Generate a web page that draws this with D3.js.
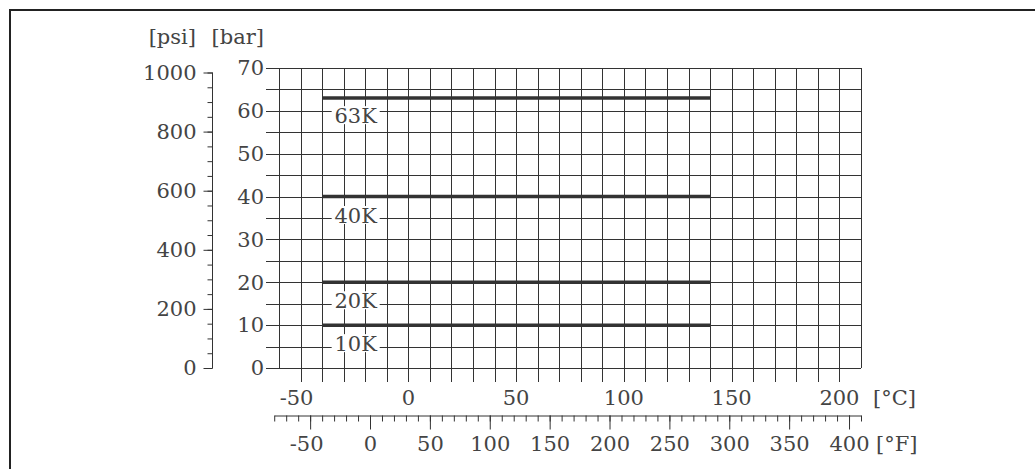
<!DOCTYPE html>
<html>
<head>
<meta charset="utf-8">
<script src="https://cdn.jsdelivr.net/npm/d3@7"></script>
<style>
  body { margin: 0; background: #fff; }
  svg text { font-family: "DejaVu Serif", serif; font-size: 21px; fill: #444; }
</style>
</head>
<body>
<script>
// pressure ratings (bar) and the bar value each label is centred on
let ratings = ["63K", "40K", "20K", "10K"];
let ratingBar = [63, 40, 20, 10];
let ratingLabelBar = [59, 35.7, 15.8, 5.8];
let tempRangeC = [-40, 140];

let barTicks = [0, 10, 20, 30, 40, 50, 60, 70];
let psiTicks = [0, 200, 400, 600, 800, 1000];
let cTicks = [-50, 0, 50, 100, 150, 200];
let fTicks = [-50, 0, 50, 100, 150, 200, 250, 300, 350, 400];

const W = 1035, H = 469;
const PSI_PER_BAR = 14.5038;
const fToC = f => (f - 32) * 5 / 9;
const fmt = d => String(d); // plain hyphen minus, no thousands comma

let svg = d3.select("body").append("svg")
    .attr("width", W)
    .attr("height", H);

// frame (open to the right and bottom, as in the source)
svg.append("path")
    .attr("d", "M10,469V10H1035")
    .attr("fill", "none")
    .attr("stroke", "#222")
    .attr("stroke-width", 2);

let x = d3.scaleLinear().domain([-60, 210]).range([279, 861]);
let y = d3.scaleLinear().domain([0, 70]).range([368, 68]);
let yPsi = d3.scaleLinear().domain([0, 70 * PSI_PER_BAR]).range([368, 68]);

let grid = svg.append("g").attr("stroke", "#333").attr("stroke-width", 1).attr("shape-rendering", "crispEdges");

// horizontal grid every 5 bar, running past the left edge
grid.selectAll(".h")
    .data(d3.range(0, 71, 5))
  .enter().append("line")
    .attr("x1", 266).attr("x2", x(210))
    .attr("y1", d => Math.round(y(d)) + 0.5)
    .attr("y2", d => Math.round(y(d)) + 0.5);

// vertical grid every 10 °C; inner lines hang below the plot as °C ticks
grid.selectAll(".v")
    .data(d3.range(-60, 211, 10))
  .enter().append("line")
    .attr("x1", d => Math.round(x(d)) + 0.5)
    .attr("x2", d => Math.round(x(d)) + 0.5)
    .attr("y1", y(70))
    .attr("y2", d => (d === -60 || d === 210) ? y(0) : y(0) + 14);

// rating lines
svg.selectAll(".rating")
    .data(ratingBar)
  .enter().append("line")
    .attr("x1", x(tempRangeC[0]))
    .attr("x2", x(tempRangeC[1]))
    .attr("y1", d => y(d))
    .attr("y2", d => y(d))
    .attr("stroke", "#333")
    .attr("stroke-width", 3.5);

// rating labels with white knock-out
let lab = svg.selectAll(".rlab")
    .data(ratings)
  .enter().append("g")
    .attr("transform", (d, i) => `translate(${x(-30) + 12},${y(ratingLabelBar[i])})`);
lab.append("rect")
    .attr("x", -24).attr("y", -9)
    .attr("width", 48).attr("height", 18)
    .attr("fill", "#fff");
lab.append("text")
    .attr("text-anchor", "middle")
    .attr("dy", "0.36em")
    .text(d => d);

// bar labels
svg.selectAll(".barlab")
    .data(barTicks)
  .enter().append("text")
    .attr("x", 264)
    .attr("y", d => y(d))
    .attr("dy", "0.35em")
    .attr("text-anchor", "end")
    .text(fmt);

// psi axis
let psiAxis = svg.append("g")
    .attr("transform", "translate(212.5,0)");
psiAxis.call(d3.axisLeft(yPsi).tickValues(d3.range(0, 1001, 50)).tickSize(5).tickFormat(""));
psiAxis.call(g => g.select(".domain").remove());
psiAxis.selectAll(".tick line").attr("stroke", "#333");
psiAxis.append("line")
    .attr("x1", 0).attr("x2", 0)
    .attr("y1", yPsi(0)).attr("y2", yPsi(1000))
    .attr("stroke", "#333");
let psiMajor = svg.append("g").attr("transform", "translate(212.5,0)")
    .call(d3.axisLeft(yPsi).tickValues(psiTicks).tickSize(9).tickPadding(7).tickFormat(fmt));
psiMajor.select(".domain").remove();
psiMajor.selectAll(".tick line").attr("stroke", "#333");

// °C labels
svg.selectAll(".clab")
    .data(cTicks)
  .enter().append("text")
    .attr("x", d => x(d) + (d < 0 ? -4 : 0))
    .attr("y", 398)
    .attr("dy", "0.35em")
    .attr("text-anchor", "middle")
    .text(fmt);

// °F axis
let xf = d3.scaleLinear().domain([-80, 410]).range([x(fToC(-80)), x(fToC(410))]);
let fAxis = svg.append("g").attr("transform", "translate(0,415.5)");
fAxis.call(d3.axisBottom(xf).tickValues(d3.range(-80, 411, 10)).tickSize(6).tickSizeOuter(0).tickFormat(""));
fAxis.select(".domain").attr("stroke", "#333");
fAxis.selectAll(".tick line").attr("stroke", "#333");
let fMajor = svg.append("g").attr("transform", "translate(0,415.5)")
    .call(d3.axisBottom(xf).tickValues(fTicks).tickSize(14).tickPadding(6).tickFormat(fmt));
fMajor.select(".domain").remove();
fMajor.selectAll(".tick line").attr("stroke", "#333");
fMajor.selectAll("text")
    .attr("dx", d => d < 0 ? -4 : 0)
    .attr("y", 28).attr("dy", "0.35em");

// units
svg.append("text").attr("x", 196).attr("y", 37).attr("dy", "0.35em").attr("text-anchor", "end").text("[psi]");
svg.append("text").attr("x", 264).attr("y", 37).attr("dy", "0.35em").attr("text-anchor", "end").text("[bar]");
svg.append("text").attr("x", 873).attr("y", 398).attr("dy", "0.35em").text("[°C]");
svg.append("text").attr("x", 876).attr("y", 444).attr("dy", "0.35em").text("[°F]");
</script>
</body>
</html>
